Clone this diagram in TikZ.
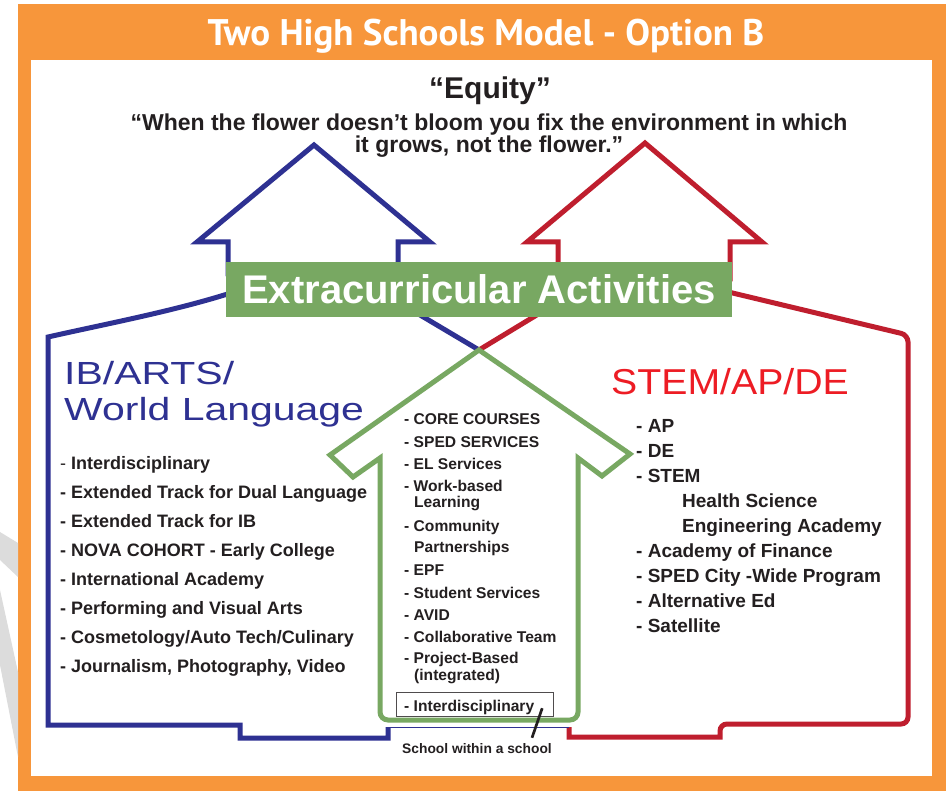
\documentclass[tikz,border=0pt]{standalone}
\usepackage{fontspec}
\setmainfont{Liberation Sans}
\newfontfamily\titlefont{PT Sans}
\newfontfamily\widefont[FakeStretch=1.28]{Liberation Sans}
\newfontfamily\stemfont[FakeStretch=1.09]{Liberation Sans}
\usepackage{xcolor}
\usepackage{tikz}
\usetikzlibrary{calc}
\definecolor{frameorange}{HTML}{F7963B}
\definecolor{ibblue}{HTML}{2E3192}
\definecolor{stemred}{HTML}{BF1E2E}
\definecolor{stemtext}{HTML}{ED1C24}
\definecolor{coregreen}{HTML}{78A862}
\definecolor{ink}{HTML}{231F20}
\definecolor{watermark}{HTML}{DCDCDC}
\tikzset{
	house/.style={line width=5pt, line join=miter},
	titletext/.style={anchor=base, inner sep=0pt, text=white, font=\titlefont\fontsize{37}{37}\selectfont\bfseries},
	mottohead/.style={anchor=base, inner sep=0pt, text=ink, font=\fontsize{30}{30}\selectfont\bfseries},
	motto/.style={anchor=base, inner sep=0pt, text=ink, align=center, font=\fontsize{23}{22}\selectfont\bfseries},
	banner/.style={fill=coregreen, text=white, minimum width=506pt, minimum height=55pt, inner sep=0pt, font=\fontsize{40}{40}\selectfont\bfseries},
	heading/.style={anchor=base west, inner sep=0pt, align=left},
	listtext/.style={anchor=base west, inner sep=0pt, align=left, text=ink},
	midtext/.style={anchor=base west, inner sep=0pt, text=ink, font=\fontsize{15.6}{16}\selectfont\bfseries},
	pointer/.style={line width=2.7pt, ink}
}

\begin{document}
\begin{tikzpicture}[x=1pt, y=-1pt]
	\useasboundingbox (0,0) rectangle (946,791);
	\fill[frameorange] (18,4) rectangle (946,791);
	\fill[white] (31,60) rectangle (932,776);
	\fill[watermark] (0,532) -- (18,543) -- (18,577) -- (0,560) -- cycle;
	\fill[watermark] (0,590) -- (18,672) -- (18,757) -- (0,665) -- cycle;

	\node[titletext] (title) at (486,46) {Two High Schools Model - Option B};
	\node[mottohead] (equity) at (490,99) {“Equity”};
	% multi-line nodes sit on their last baseline
	\node[motto] (flower) at (489,153) {“When the flower doesn’t bloom you fix the environment in which\\it grows, not the flower.”};

	% the two schools and the core
	\draw[house, ibblue] (479,350) -- (415,312) -- (398,280) -- (398,242) -- (430,242) -- (314,145) -- (197,242) -- (228,242) -- (228,275) -- (240,290)
		.. controls (180,310) and (110,323) .. (48,337) -- (48,725) -- (240,725) -- (240,738) -- (388,738) -- (388,727);
	\draw[house, stemred] (479,350) -- (540,313) -- (558,290) -- (558,242) -- (527,242) -- (645,143) -- (762,242) -- (730,242) -- (730,280) -- (720,290)
		[rounded corners=7pt] -- (908,335) -- (908,724) -- (720,724) [sharp corners] -- (720,737) -- (569,737) -- (569,727);
	\draw[ibblue, line width=1pt] (388,727) -- (569,727);
	\draw[house, coregreen, fill=white] (479,350) -- (630,454) -- (602,476) -- (578,458)
		[rounded corners=8pt] -- (578,720) -- (380,720) [sharp corners] -- (380,458) -- (353,477) -- (330,455) -- cycle;

	\node[banner] (extra) at (479,289.5) {Extracurricular Activities};

	\node[heading, text=ibblue, font=\widefont\fontsize{32}{36}\selectfont] (ibarts) at (64,421) {IB/ARTS/\\World Language};
	\node[heading, text=stemtext, font=\stemfont\fontsize{36}{36}\selectfont] (stem) at (611,395) {STEM/AP/DE};

	\node[listtext, font=\fontsize{18}{29}\selectfont\bfseries] (ibitems) at (60,672) {\textmd{-} Interdisciplinary\\- Extended Track for Dual Language\\- Extended Track for IB\\- NOVA COHORT - Early College\\- International Academy\\- Performing and Visual Arts\\- Cosmetology/Auto Tech/Culinary\\- Journalism, Photography, Video};
	\node[listtext, font=\fontsize{19}{25}\selectfont\bfseries] (stemitems) at (636,632) {- AP\\- DE\\- STEM\\\hspace*{46pt}Health Science\\\hspace*{46pt}Engineering Academy\\- Academy of Finance\\- SPED City -Wide Program\\- Alternative Ed\\- Satellite};

	\node[midtext] (core) at (404,425) {- CORE COURSES};
	\node[midtext] (sped) at (404,448) {- SPED SERVICES};
	\node[midtext] (el) at (404,470) {- EL Services};
	\node[midtext] (work) at (404,492) {- Work-based};
	\node[midtext] (learning) at (414,508) {Learning};
	\node[midtext] (community) at (404,532) {- Community};
	\node[midtext] (partners) at (414,553) {Partnerships};
	\node[midtext] (epf) at (404,576) {- EPF};
	\node[midtext] (student) at (404,598) {- Student Services};
	\node[midtext] (avid) at (404,620) {- AVID};
	\node[midtext] (collab) at (404,642) {- Collaborative Team};
	\node[midtext] (project) at (404,663) {- Project-Based};
	\node[midtext] (integrated) at (414,680) {(integrated)};
	\node[draw=ink!80, line width=1.2pt, anchor=north west, minimum width=157pt, minimum height=24pt, inner sep=0pt] (tag) at (396,692) {};
	\node[midtext] (interdisc) at (404,711) {- Interdisciplinary};

	\node[anchor=base, inner sep=0pt, text=ink, font=\fontsize{13.8}{14}\selectfont\bfseries] (swas) at (477,753) {School within a school};
	\draw[pointer] ($(tag.south east)+(-12,-9)$) -- ($(swas.north)+(55,-5)$);
\end{tikzpicture}
\end{document}
